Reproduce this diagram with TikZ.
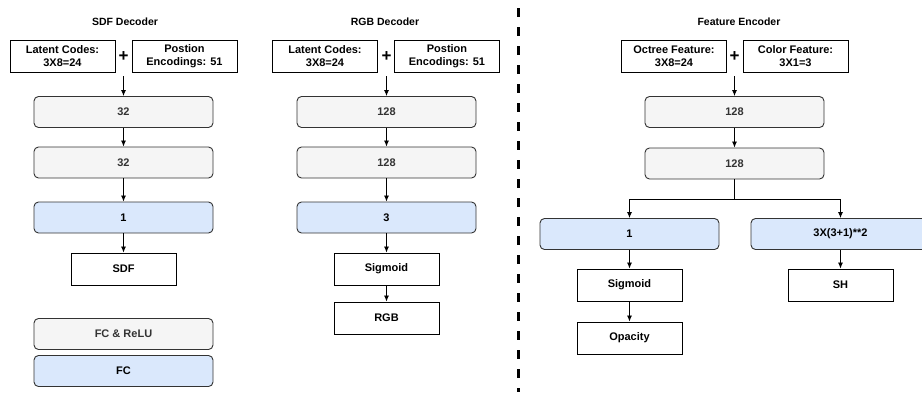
\documentclass[tikz,border=0pt]{standalone}
\usepackage{fontspec}
\setmainfont{Liberation Sans}
\usepackage{tikz}
\usepackage{xcolor}
\usetikzlibrary{arrows.meta}
\definecolor{boxgray}{HTML}{F5F5F5}
\definecolor{boxblue}{HTML}{DAE8FC}
\definecolor{edge}{HTML}{333333}
\tikzset{
    fc-relu/.style = {draw=edge, fill=boxgray, line width=0.9pt, rectangle, rounded corners=4.5pt, minimum width=179pt, minimum height=31pt, inner sep=0pt, text=edge, font=\fontsize{11}{13}\selectfont\bfseries},
    fc-out/.style = {fc-relu, fill=boxblue, text=black},
    io-box/.style = {draw=black, fill=white, line width=0.9pt, rectangle, minimum width=105pt, minimum height=32pt, inner sep=0pt, align=center, font=\fontsize{11}{13}\selectfont\bfseries},
    plus-sign/.style = {font=\fontsize{17}{17}\selectfont\bfseries, inner sep=0pt},
    head-title/.style = {font=\fontsize{10.5}{12}\selectfont\bfseries},
    flow/.style = {-{Latex[length=6pt,width=5pt]}, line width=0.8pt},
}

\begin{document}
\begin{tikzpicture}[x=1pt, y=-1pt]
\useasboundingbox (0,0) rectangle (922,394);
\clip (0,0) rectangle (922,394);

% SDF decoder
\node[head-title] (sdf-title) at (125,22) {SDF Decoder};
\node[io-box] (sdf-in-a) at (62.5,56) {Latent Codes:\\3X8=24};
\node[plus-sign] (sdf-plus) at (123.5,57) {+};
\node[io-box] (sdf-in-b) at (184.5,56) {Postion\\Encodings: 51};
\coordinate (sdf-join) at (123.5,76);
\node[fc-relu] (sdf-l1) at (123.5,112) {32};
\node[fc-relu] (sdf-l2) at (123.5,162.5) {32};
\node[fc-out] (sdf-l3) at (123.5,217.5) {1};
\node[io-box] (sdf-out) at (123.5,269) {SDF};
\draw[flow] (sdf-join) -- (sdf-l1);
\draw[flow] (sdf-l1) -- (sdf-l2);
\draw[flow] (sdf-l2) -- (sdf-l3);
\draw[flow] (sdf-l3) -- (sdf-out);

% legend
\node[fc-relu] (key-relu) at (123.5,334) {FC \& ReLU};
\node[fc-out] (key-fc) at (123.5,371) {FC};

% RGB decoder
\node[head-title] (rgb-title) at (385,22) {RGB Decoder};
\node[io-box] (rgb-in-a) at (325,56) {Latent Codes:\\3X8=24};
\node[plus-sign] (rgb-plus) at (386.5,57) {+};
\node[io-box] (rgb-in-b) at (447,56) {Postion\\Encodings: 51};
\coordinate (rgb-join) at (386.5,76);
\node[fc-relu] (rgb-l1) at (386.5,112) {128};
\node[fc-relu] (rgb-l2) at (386.5,162.5) {128};
\node[fc-out] (rgb-l3) at (386.5,217.5) {3};
\node[io-box] (rgb-sig) at (386.5,269) {Sigmoid};
\node[io-box] (rgb-out) at (386.5,318) {RGB};
\draw[flow] (rgb-join) -- (rgb-l1);
\draw[flow] (rgb-l1) -- (rgb-l2);
\draw[flow] (rgb-l2) -- (rgb-l3);
\draw[flow] (rgb-l3) -- (rgb-sig);
\draw[flow] (rgb-sig) -- (rgb-out);

% divider
\draw[line width=3pt, dash pattern=on 9pt off 10pt] (518,8) -- (518,392);

% feature encoder
\node[head-title] (enc-title) at (739,22) {Feature Encoder};
\node[io-box] (enc-in-a) at (674,56) {Octree Feature:\\3X8=24};
\node[plus-sign] (enc-plus) at (734.5,57) {+};
\node[io-box] (enc-in-b) at (795.5,56) {Color Feature:\\3X1=3};
\coordinate (enc-join) at (734.5,76);
\node[fc-relu] (enc-l1) at (734.5,112) {128};
\node[fc-relu] (enc-l2) at (734.5,163.5) {128};
\coordinate (enc-split) at (734.5,199);
\node[fc-out] (enc-l3a) at (629.5,234) {1};
\node[fc-out] (enc-l3b) at (840.5,234) {3X(3+1)**2};
\node[io-box] (enc-sig) at (629.5,285) {Sigmoid};
\node[io-box] (enc-alpha) at (629.5,338) {Opacity};
\node[io-box] (enc-sh) at (840.5,285) {SH};
\draw[flow] (enc-join) -- (enc-l1);
\draw[flow] (enc-l1) -- (enc-l2);
\draw[line width=0.8pt] (enc-l2) -- (enc-split);
\draw[flow] (enc-split) -| (enc-l3a);
\draw[flow] (enc-split) -| (enc-l3b);
\draw[flow] (enc-l3a) -- (enc-sig);
\draw[flow] (enc-sig) -- (enc-alpha);
\draw[flow] (enc-l3b) -- (enc-sh);
\end{tikzpicture}
\end{document}
